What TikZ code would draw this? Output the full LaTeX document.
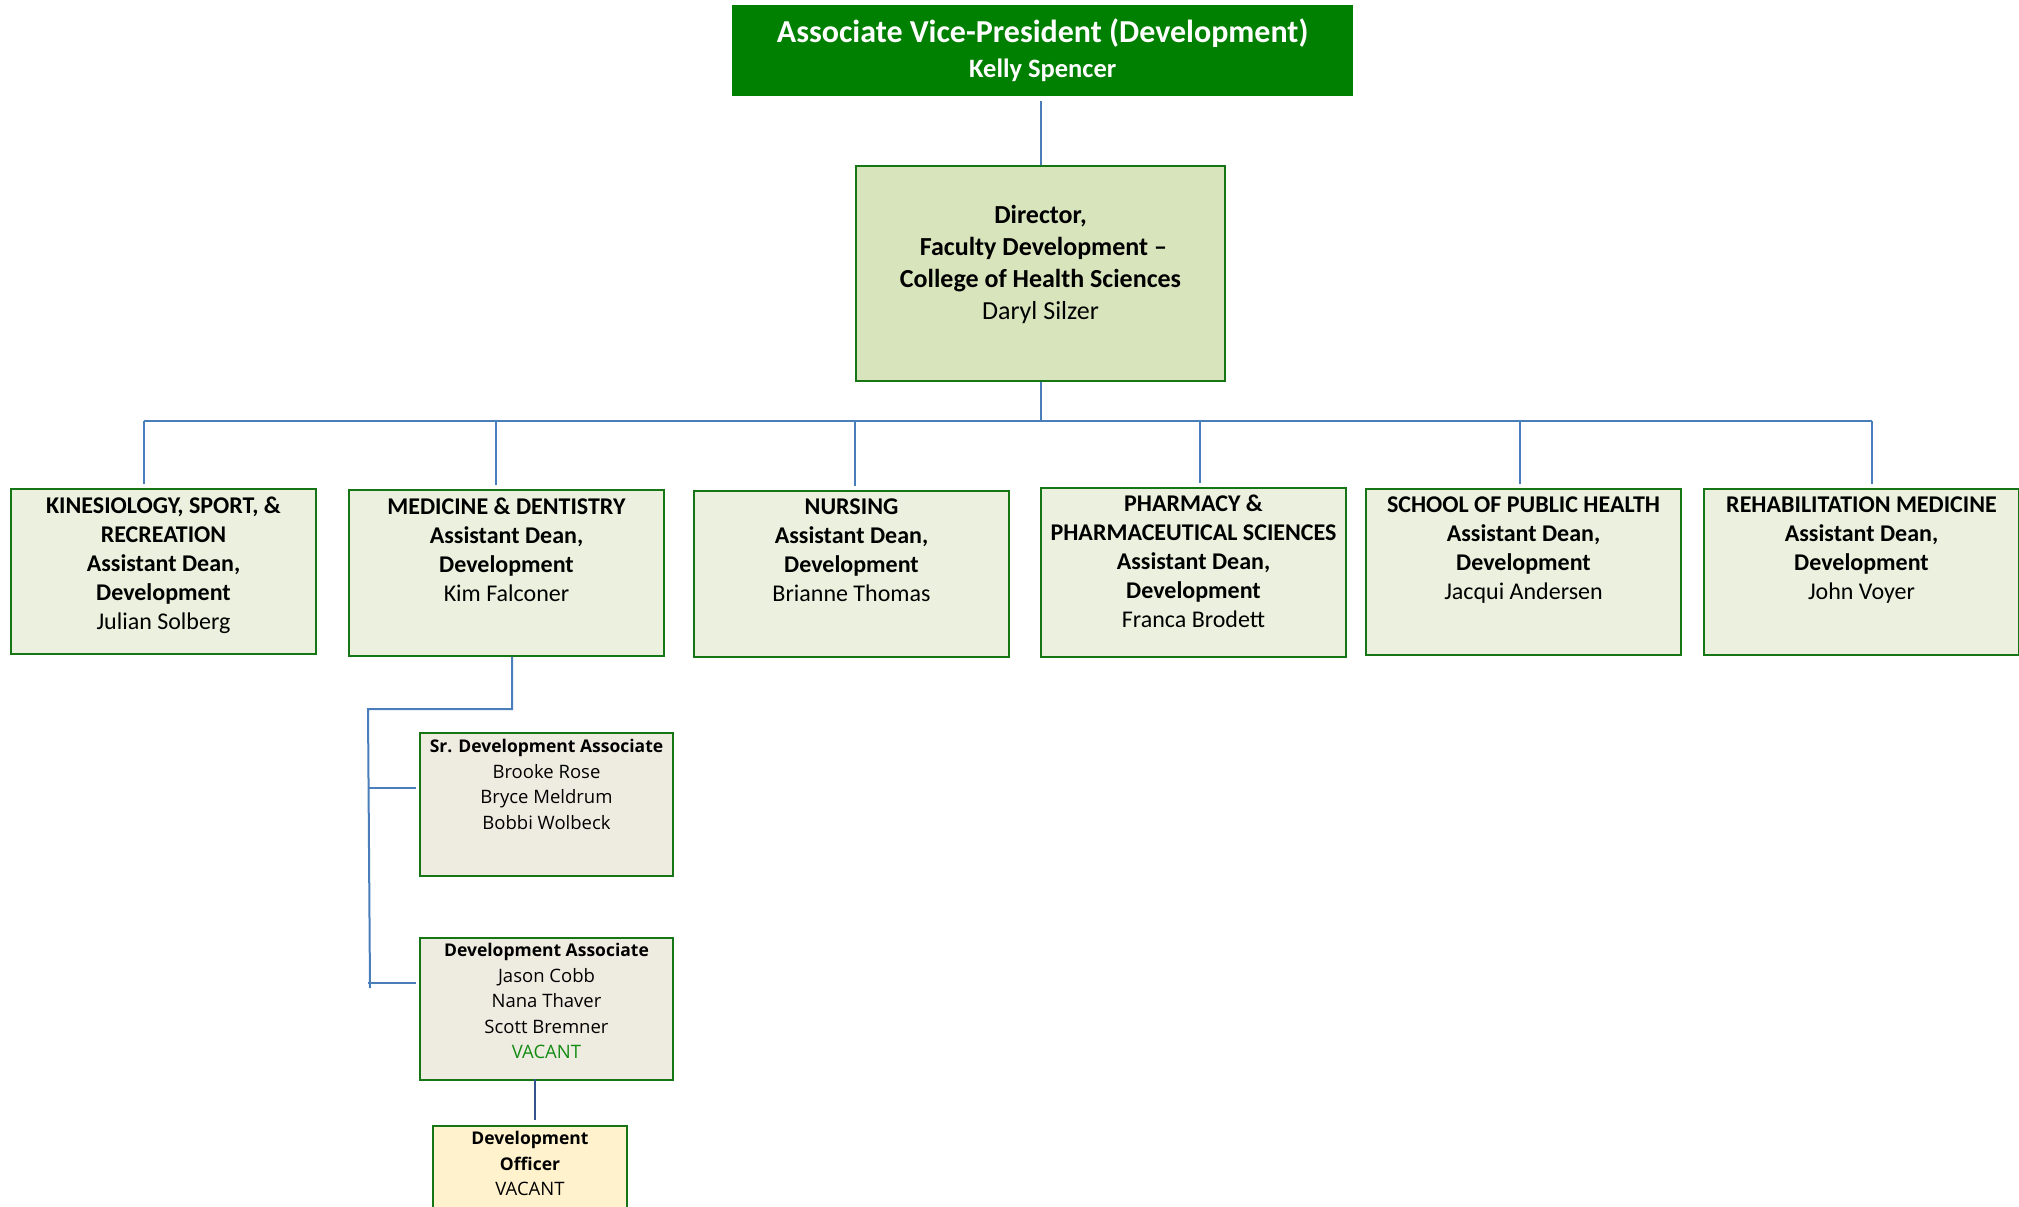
\documentclass[tikz,border=0pt]{standalone}
\usepackage{fontspec}
\setmainfont{Carlito}
\newfontfamily\assocfont{Open Sans}
\usetikzlibrary{positioning}

\definecolor{avpgreen}{RGB}{0,128,0}
\definecolor{boxline}{RGB}{22,118,22}
\definecolor{dirfill}{RGB}{216,228,188}
\definecolor{unitfill}{RGB}{235,241,222}
\definecolor{assocfill}{RGB}{238,236,225}
\definecolor{officerfill}{RGB}{255,242,204}
\definecolor{linkblue}{RGB}{74,126,187}
\definecolor{linkdark}{RGB}{52,84,140}
\definecolor{vacantgreen}{RGB}{20,140,20}

\newcommand{\avpfont}{\bfseries\fontsize{26.5}{35}\selectfont}
\newcommand{\unitfont}{\fontsize{24}{29}\selectfont}
\newcommand{\dirfont}{\fontsize{26}{32}\selectfont}
\newcommand{\stafffont}{\assocfont\fontsize{18.5}{25.5}\selectfont}
\newcommand{\staffhead}[1]{{\fontsize{17.5}{25.5}\selectfont\bfseries #1}}

\tikzstyle{link}      = [draw=linkblue, line width=2pt]
\tikzstyle{unitbox}   = [draw=boxline, line width=2pt, fill=unitfill, anchor=north west, inner sep=0pt, minimum width=315pt, minimum height=166pt]
\tikzstyle{unittext}  = [align=center, inner sep=0pt, font=\unitfont]
\tikzstyle{staffbox}  = [draw=boxline, line width=2pt, fill=assocfill, anchor=north west, inner sep=0pt, minimum width=253pt, minimum height=143pt]
\tikzstyle{stafftext} = [align=center, inner sep=0pt, font=\stafffont]

\begin{document}
\begin{tikzpicture}[x=1pt,y=-1pt]
      \useasboundingbox (0,0) rectangle (2019,1207);

      % Top box
      \node[fill=avpgreen, anchor=north west, minimum width=621pt, minimum height=91pt, inner sep=0pt, align=center, text=white, font=\avpfont]
        (avp) at (732,5) {{\fontsize{32}{35}\selectfont Associate Vice-President (Development)}\\Kelly Spencer};

      % Director
      \node[draw=boxline, line width=2pt, fill=dirfill, anchor=north west, minimum width=369pt, minimum height=215pt]
        (dir) at (855,165) {};
      \node[align=center, inner sep=0pt, font=\dirfont, yshift=9pt]
        (dirtext) at (dir.center) {\textbf{Director,}\\\textbf{\ Faculty Development –}\\\textbf{College of Health Sciences}\\Daryl Silzer};

      % Faculties
      \node[unitbox, minimum width=305pt, minimum height=165pt] (kin) at (10,488) {};
      \node[unittext, below=9pt of kin.north] (kintext)
        {\textbf{KINESIOLOGY, SPORT, \&}\\\textbf{RECREATION}\\\textbf{Assistant Dean,}\\\textbf{Development}\\Julian Solberg};
      \node[unitbox] (med) at (348,489) {};
      \node[unittext, below=9pt of med.north] (medtext)
        {\textbf{MEDICINE \& DENTISTRY}\\\textbf{Assistant Dean,}\\\textbf{Development}\\Kim Falconer};
      \node[unitbox] (nur) at (693,490) {};
      \node[unittext, below=9pt of nur.north] (nurtext)
        {\textbf{NURSING}\\\textbf{Assistant Dean,}\\\textbf{Development}\\Brianne Thomas};
      \node[unitbox, minimum width=305pt, minimum height=169pt] (pha) at (1040,487) {};
      \node[unittext, below=8pt of pha.north] (phatext)
        {\textbf{PHARMACY \&}\\\textbf{PHARMACEUTICAL SCIENCES}\\\textbf{Assistant Dean,}\\\textbf{Development}\\Franca Brodett};
      \node[unitbox] (sph) at (1365,488) {};
      \node[unittext, below=9pt of sph.north] (sphtext)
        {\textbf{SCHOOL OF PUBLIC HEALTH}\\\textbf{Assistant Dean,}\\\textbf{Development}\\Jacqui Andersen};
      \node[unitbox] (reh) at (1703,488) {};
      \node[unittext, below=9pt of reh.north] (rehtext)
        {\textbf{REHABILITATION MEDICINE}\\\textbf{Assistant Dean,}\\\textbf{Development}\\John Voyer};

      % Medicine staff
      \node[staffbox] (sda) at (419,732) {};
      \node[stafftext, below=7pt of sda.north] (sdatext)
        {\staffhead{Sr. Development Associate}\\Brooke Rose\\Bryce Meldrum\\Bobbi Wolbeck};
      \node[staffbox, minimum height=142pt] (dva) at (419,937) {};
      \node[stafftext, below=6pt of dva.north] (dvatext)
        {\staffhead{Development Associate}\\Jason Cobb\\Nana Thaver\\Scott Bremner\\\textcolor{vacantgreen}{VACANT}};
      \node[staffbox, fill=officerfill, minimum width=194pt, minimum height=100pt] (dvo) at (432,1125) {};
      \node[stafftext, below=6pt of dvo.north] (dvotext)
        {\staffhead{Development}\\\staffhead{Officer}\\VACANT};

      % Connectors
      \draw[link, shorten <=5pt] (avp.south -| dir.north) -- (dir.north);
      \coordinate (busL) at (143.75,421);
      \coordinate (busR) at (1872,421);
      \draw[link] (dir.south) -- (dir.south |- busL);
      \draw[link] (busL) -- (busR);
      \foreach \u/\dx in {kin/143.75, med/495.5, nur/855, pha/1200, sph/1520, reh/1872} {
        \coordinate (drop\u) at (\dx,421);
        \draw[link, shorten >=4pt] (drop\u) -- (drop\u |- \u.north);
      }
      \coordinate (medknee) at (512,709);
      \coordinate (railtop) at (368,709);
      \coordinate (railend) at (370,988);
      \draw[link] (medknee |- med.south) -- (medknee) -- (railtop) -- (railend);
      \coordinate (sdatap) at (416,788);
      \coordinate (dvatap) at (416,983);
      \draw[link] (railtop |- sdatap) -- (sdatap);
      \draw[link] (railtop |- dvatap) -- (dvatap);
      \coordinate (offtap) at (535,1079);
      \draw[linkdark, line width=2pt, shorten >=5pt] (offtap) -- (offtap |- dvo.north);
\end{tikzpicture}
\end{document}
